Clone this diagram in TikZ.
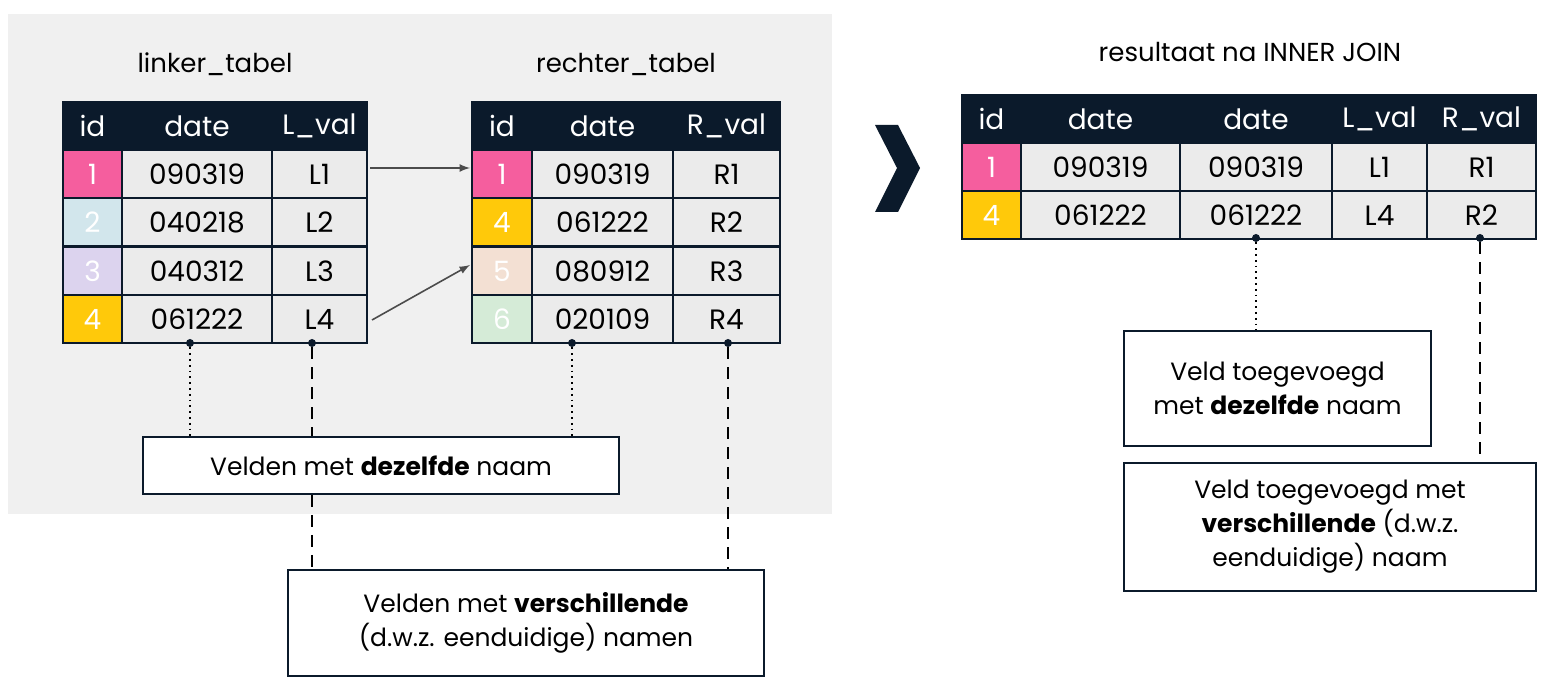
\documentclass[tikz,border=0pt]{standalone}
\usepackage{fontspec}
\setmainfont{Poppins}
\begin{document}
\definecolor{navy}{HTML}{0B1A2B}
\definecolor{cellg}{HTML}{EBEBEB}
\definecolor{bg}{HTML}{F0F0F0}
\definecolor{pk}{HTML}{F55E9E}
\definecolor{bl}{HTML}{D2E6EC}
\definecolor{lv}{HTML}{DCD3EE}
\definecolor{yl}{HTML}{FFC90A}
\definecolor{pc}{HTML}{F3E0D3}
\definecolor{gr}{HTML}{D5EBD7}
\newcommand{\mycell}[7]{%
  \draw[fill=#5,line width=1.2pt,draw=navy] (#1,#2) rectangle (#3,#4);
  \node[text=#6,font=\fontsize{14}{16}\selectfont] at ({(#1+#3)/2},{(#2+#4)/2}) {#7};}
\begin{tikzpicture}[x=0.5pt,y=-0.5pt,
  lbl/.style={font=\fontsize{13}{15}\selectfont},
  box/.style={draw=navy,line width=1pt,fill=white,align=center,font=\fontsize{12.5}{17}\selectfont,inner sep=0pt},
  dot/.style={circle,fill=navy,inner sep=0pt,minimum size=4pt},
  arr/.style={->,>=latex,draw=black!70,line width=0.8pt}]
\useasboundingbox (0,0) rectangle (1549,688);
\fill[bg] (8,14) rectangle (832,514);
\node[lbl] (t1) at (215,64) {linker\_tabel};
\node[lbl] (t2) at (626,64) {rechter\_tabel};
\node[lbl] (t3) at (1250,52) {resultaat na INNER JOIN};
% left table
\foreach \a/\b/\t in {63/122/id,122/272/date,272/367/L\_val}{\mycell{\a}{102}{\b}{150}{navy}{white}{\t}}
\foreach \y/\c/\i/\d/\v in {150/pk/1/09\/03\/19/L1,198/bl/2/04\/02\/18/L2,247/lv/3/04\/03\/12/L3,295/yl/4/06\/12\/22/L4}{
  \pgfmathsetmacro\yb{\y+48}
  \mycell{63}{\y}{122}{\yb}{\c}{white}{\i}
  \mycell{122}{\y}{272}{\yb}{cellg}{black}{\d}
  \mycell{272}{\y}{367}{\yb}{cellg}{black}{\v}}
% right table
\foreach \a/\b/\t in {472/532/id,532/673/date,673/780/R\_val}{\mycell{\a}{102}{\b}{150}{navy}{white}{\t}}
\foreach \y/\c/\i/\d/\v in {150/pk/1/09\/03\/19/R1,198/yl/4/06\/12\/22/R2,247/pc/5/08\/09\/12/R3,295/gr/6/02\/01\/09/R4}{
  \pgfmathsetmacro\yb{\y+48}
  \mycell{472}{\y}{532}{\yb}{\c}{white}{\i}
  \mycell{532}{\y}{673}{\yb}{cellg}{black}{\d}
  \mycell{673}{\y}{780}{\yb}{cellg}{black}{\v}}
% result table
\foreach \a/\b/\t in {962/1021/id,1021/1180/date,1180/1332/date,1332/1427/L\_val,1427/1536/R\_val}{\mycell{\a}{95}{\b}{143}{navy}{white}{\t}}
\foreach \y/\c/\i/\d/\v/\w in {143/pk/1/09\/03\/19/L1/R1,191/yl/4/06\/12\/22/L4/R2}{
  \pgfmathsetmacro\yb{\y+48}
  \mycell{962}{\y}{1021}{\yb}{\c}{white}{\i}
  \mycell{1021}{\y}{1180}{\yb}{cellg}{black}{\d}
  \mycell{1180}{\y}{1332}{\yb}{cellg}{black}{\d}
  \mycell{1332}{\y}{1427}{\yb}{cellg}{black}{\v}
  \mycell{1427}{\y}{1536}{\yb}{cellg}{black}{\w}}
% arrows
\coordinate (a1) at (370,168); \coordinate (a2) at (470,168);
\coordinate (a3) at (372,320); \coordinate (a4) at (470,265);
\draw[arr] (a1) -- (a2);
\draw[arr] (a3) -- (a4);
% chevron
\fill[navy] (875,125) -- (898,125) -- (920,168) -- (898,212) -- (875,212) -- (897,168) -- cycle;
% dots
\node[dot] (d1) at (190,343) {};
\node[dot] (d2) at (312,343) {};
\node[dot] (d3) at (572,343) {};
\node[dot] (d4) at (728,343) {};
\node[dot] (d5) at (1256,238) {};
\node[dot] (d6) at (1480,238) {};
% boxes
\node[box,minimum width=238pt,minimum height=28.5pt] (b1) at (381,465.5) {Velden met \textbf{dezelfde} naam};
\node[box,minimum width=238pt,minimum height=53pt] (b2) at (526,623) {Velden met \textbf{verschillende}\\(d.w.z. eenduidige) namen};
\node[box,minimum width=153.5pt,minimum height=57.5pt] (b3) at (1277.5,388.5) {Veld toegevoegd\\met \textbf{dezelfde} naam};
\node[box,minimum width=206pt,minimum height=64pt] (b4) at (1330,527) {Veld toegevoegd met\\\textbf{verschillende} (d.w.z.\\eenduidige) naam};
% connectors
\draw[dotted,line width=0.9pt] (d1) -- (d1|-b1.north);
\draw[dotted,line width=0.9pt] (d3) -- (d3|-b1.north);
\draw[dashed,line width=0.9pt,dash pattern=on 6pt off 4pt] (d2) -- (d2|-b1.north);
\draw[dashed,line width=0.9pt,dash pattern=on 6pt off 4pt] (d2|-b1.south) -- (d2|-b2.north);
\draw[dashed,line width=0.9pt,dash pattern=on 6pt off 4pt] (d4) -- (d4|-b2.north);
\draw[dotted,line width=0.9pt] (d5) -- (d5|-b3.north);
\draw[dashed,line width=0.9pt,dash pattern=on 6pt off 4pt] (d6) -- (d6|-b4.north);
\end{tikzpicture}
\end{document}
